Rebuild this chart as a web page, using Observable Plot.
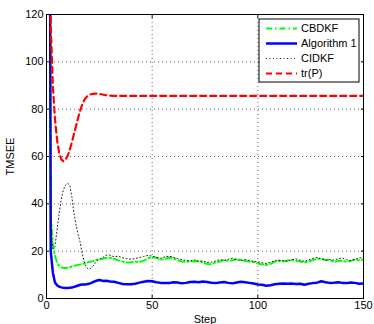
<!DOCTYPE html>
<html>
<head>
<meta charset="utf-8">
<script src="https://cdn.jsdelivr.net/npm/d3@7"></script>
<script src="https://cdn.jsdelivr.net/npm/@observablehq/plot@0.6"></script>
<style>
  html, body { margin: 0; padding: 0; background: #fff; }
  #chart { width: 374px; height: 324px; }
  svg { font-family: "Liberation Sans", Arial, Helvetica, sans-serif; }
</style>
</head>
<body>
<div id="chart"></div>
<script>
// Step index (x values)
const steps = [1,2,3,4,5,6,7,8,9,10,11,12,13,14,15,16,17,18,19,20,21,22,23,24,25,26,27,28,29,30,
  32,34,36,38,40,42,44,46,48,50,52,54,56,58,60,62,64,66,68,70,72,74,76,78,80,82,84,86,88,90,
  92,94,96,98,100,102,104,106,108,110,112,114,116,118,120,122,124,126,128,130,132,134,136,138,140,142,144,146,148,150];

// CBDKF
const cbdkf = [400,35,23,18,15.2,13.8,13.2,12.9,12.9,13,13.2,13.5,13.8,14,14.2,14.4,14.6,14.8,15.1,15.4,15.6,15.8,16.1,16.4,16.6,16.7,16.9,17.1,17.3,17.2,
  16.8,16.1,15.6,15.2,15.3,15.6,15.4,16,16.9,17.5,17.2,16.4,16.7,17.3,17,16.2,15.6,15.4,15.8,15.6,15.9,15.2,14.6,14.5,15.2,15.6,16.3,15.9,16.2,16.6,
  16.4,15.8,15.6,15.4,14.8,14.4,14.1,14.6,15.5,15.9,15.6,16.1,16.3,15.9,15.6,15.3,15.5,16.2,16.8,16.9,16.4,16.2,15.5,15.8,16,15.5,15.9,16.4,16.1,16.6];

// Algorithm 1
const alg1 = [400,20,11,6.8,5.6,5,4.7,4.5,4.4,4.4,4.5,4.6,4.9,5.2,5.5,5.8,5.9,5.9,6,6.2,6.5,6.9,7.3,7.6,7.8,7.6,7.4,7.5,7.4,7.2,
  7.1,6.6,6.1,6,6,6.2,6.7,7.1,7.4,7.3,6.9,6.6,6.5,6.5,6.9,6.8,6.4,6.6,7,7.1,6.9,7.2,7,6.7,6.5,6.8,7,6.6,6.4,6.8,
  7.1,6.9,6.6,6.3,5.9,5.8,5.4,5.6,6,6.2,6.3,6.2,6.3,6.1,6.2,5.8,6.2,6.5,6.7,7.3,6.9,6.6,6.7,6.9,6.6,6.5,6.8,6.6,6.2,6.3];

// CIDKF
const cidkf = [400,30,21,22,29,36,42,46,48,48.7,48,43,36,31,27,23.5,18.5,15,13,12.4,12.8,13.8,15,16,16.4,17,17.6,18.2,18.5,18.3,
  17.6,17.9,17.2,16.8,16.6,16.9,17.3,17.8,18.2,17.9,17.4,17,17.6,17.9,17.4,16.9,16.4,16.1,15.9,16.3,15.6,15.9,15.2,15.4,15.8,16.4,16.1,16.6,17,16.3,
  16,16.5,16.1,15.6,15.5,15.1,14.8,15.4,15.9,16.2,16,15.7,16.3,16.8,16.1,15.7,16.3,16.9,17.3,16.6,16.1,16.5,16.2,16.8,17.1,16.4,16,16.6,17.1,17.4];

// tr(P)
const trP = [250,115,90,76,67,61.5,58.8,58,58.6,60.3,62.8,66,69.5,73,76.5,79.6,82.2,84,85.2,85.9,86.3,86.5,86.6,86.6,86.5,86.3,86.1,85.9,85.8,85.7,
  85.6,85.6,85.6,85.6,85.6,85.6,85.6,85.6,85.6,85.6,85.6,85.6,85.6,85.6,85.6,85.6,85.6,85.6,85.6,85.6,85.6,85.6,85.6,85.6,85.6,85.6,85.6,85.6,85.6,85.6,
  85.6,85.6,85.6,85.6,85.6,85.6,85.6,85.6,85.6,85.6,85.6,85.6,85.6,85.6,85.6,85.6,85.6,85.6,85.6,85.6,85.6,85.6,85.6,85.6,85.6,85.6,85.6,85.6,85.6,85.6];

const xTicks = [0, 50, 100, 150];
const yTicks = [0, 20, 40, 60, 80, 100, 120];

const seriesNames = ["CBDKF", "Algorithm 1", "CIDKF", "tr(P)"];
const seriesValues = [cbdkf, alg1, cidkf, trP];
const seriesStyles = [
  {stroke: "#00ff00", strokeWidth: 2, strokeDasharray: "6,3,1.5,3"},
  {stroke: "#0000ff", strokeWidth: 2.5, strokeDasharray: null},
  {stroke: "#222222", strokeWidth: 1, strokeDasharray: "1,2.5"},
  {stroke: "#ff0000", strokeWidth: 2.2, strokeDasharray: "6,4"}
];

const rows = [];
seriesValues.forEach((vals, si) => {
  vals.forEach((v, i) => rows.push({series: seriesNames[si], step: steps[i], value: v}));
});

const lineMarks = seriesNames.map((name, si) => Plot.line(rows.filter(d => d.series === name), {
  x: "step", y: "value", clip: true,
  stroke: seriesStyles[si].stroke,
  strokeWidth: seriesStyles[si].strokeWidth,
  strokeDasharray: seriesStyles[si].strokeDasharray,
  strokeLinejoin: "round"
}));

const plot = Plot.plot({
  width: 374,
  height: 324,
  marginLeft: 46,
  marginRight: 11,
  marginTop: 14,
  marginBottom: 26,
  style: {fontFamily: "'Liberation Sans', Arial, Helvetica, sans-serif", fontSize: "11px", background: "#fff", color: "#000"},
  x: {domain: [0, 150]},
  y: {domain: [0, 120]},
  marks: [
    Plot.gridX(xTicks.slice(1, -1), {stroke: "#444", strokeOpacity: 0.8, strokeDasharray: "1,3"}),
    Plot.gridY(yTicks.slice(1, -1), {stroke: "#444", strokeOpacity: 0.8, strokeDasharray: "1,3"}),
    ...lineMarks,
    Plot.axisX(xTicks, {anchor: "bottom", tickSize: -3, tickPadding: 6, label: "Step", labelAnchor: "center", labelOffset: 24, labelArrow: "none"}),
    Plot.axisX(xTicks, {anchor: "top", tickSize: -3, tickFormat: () => "", label: null}),
    Plot.axisY(yTicks, {anchor: "left", tickSize: -3, tickPadding: 6, label: "TMSEE", labelAnchor: "center", labelOffset: 40, labelArrow: "none"}),
    Plot.axisY(yTicks, {anchor: "right", tickSize: -3, tickFormat: () => "", label: null}),
    Plot.frame({stroke: "#000", strokeWidth: 1})
  ]
});

document.getElementById("chart").appendChild(plot);

// Legend box (top-right, inside the plot)
const svg = d3.select(plot);
const lg = svg.append("g").attr("transform", "translate(259,19)");
lg.append("rect").attr("x", 0).attr("y", 0).attr("width", 100).attr("height", 63)
  .attr("fill", "#fff").attr("stroke", "#000").attr("stroke-width", 1);
seriesNames.forEach((name, i) => {
  const y = 9.5 + i * 15;
  const st = seriesStyles[i];
  lg.append("line").attr("x1", 7).attr("x2", 38).attr("y1", y).attr("y2", y)
    .attr("stroke", st.stroke).attr("stroke-width", st.strokeWidth)
    .attr("stroke-dasharray", st.strokeDasharray);
  lg.append("text").attr("x", 42).attr("y", y).attr("dy", "0.35em")
    .attr("text-anchor", "start")
    .attr("font-size", 11).attr("fill", "#000").text(name);
});
</script>
</body>
</html>
